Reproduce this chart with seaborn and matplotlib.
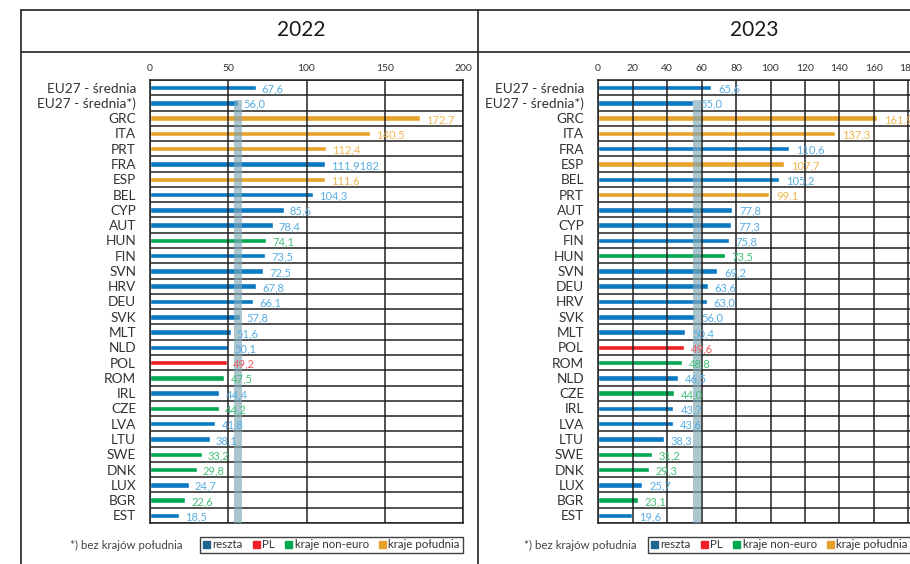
import numpy as np
import pandas as pd
import matplotlib.pyplot as plt
import matplotlib.lines as mlines
import matplotlib.patches as mpatches
import seaborn as sns

sns.set_theme(style='white')
plt.rcParams['font.family'] = ['Lato', 'DejaVu Sans']

# dane 2022
kraje_2022 = ['EU27 - średnia', 'EU27 - średnia*)', 'GRC', 'ITA', 'PRT', 'FRA', 'ESP', 'BEL',
              'CYP', 'AUT', 'HUN', 'FIN', 'SVN', 'HRV', 'DEU', 'SVK', 'MLT', 'NLD', 'POL',
              'ROM', 'IRL', 'CZE', 'LVA', 'LTU', 'SWE', 'DNK', 'LUX', 'BGR', 'EST']
wart_2022 = [67.6, 56.0, 172.7, 140.5, 112.4, 111.9182, 111.6, 104.3, 85.6, 78.4, 74.1, 73.5,
             72.5, 67.8, 66.1, 57.8, 51.6, 50.1, 49.2, 47.5, 44.4, 44.2, 41.8, 38.1, 33.2,
             29.8, 24.7, 22.6, 18.5]
etyk_2022 = ['67,6', '56,0', '172,7', '140,5', '112,4', '111,9182', '111,6', '104,3', '85,6',
             '78,4', '74,1', '73,5', '72,5', '67,8', '66,1', '57,8', '51,6', '50,1', '49,2',
             '47,5', '44,4', '44,2', '41,8', '38,1', '33,2', '29,8', '24,7', '22,6', '18,5']
grupa_2022 = ['reszta', 'reszta', 'kraje południa', 'kraje południa', 'kraje południa', 'reszta',
              'kraje południa', 'reszta', 'reszta', 'reszta', 'kraje non-euro', 'reszta', 'reszta',
              'reszta', 'reszta', 'reszta', 'reszta', 'reszta', 'PL', 'kraje non-euro', 'reszta',
              'kraje non-euro', 'reszta', 'reszta', 'kraje non-euro', 'kraje non-euro', 'reszta',
              'kraje non-euro', 'reszta']

# dane 2023
kraje_2023 = ['EU27 - średnia', 'EU27 - średnia*)', 'GRC', 'ITA', 'FRA', 'ESP', 'BEL', 'PRT',
              'AUT', 'CYP', 'FIN', 'HUN', 'SVN', 'DEU', 'HRV', 'SVK', 'MLT', 'POL', 'ROM',
              'NLD', 'CZE', 'IRL', 'LVA', 'LTU', 'SWE', 'DNK', 'LUX', 'BGR', 'EST']
wart_2023 = [65.6, 55.0, 161.9, 137.3, 110.6, 107.7, 105.2, 99.1, 77.8, 77.3, 75.8, 73.5, 69.2,
             63.6, 63.0, 56.0, 50.4, 49.6, 48.8, 46.5, 44.0, 43.7, 43.6, 38.3, 31.2, 29.3,
             25.7, 23.1, 19.6]
etyk_2023 = ['65,6', '55,0', '161,9', '137,3', '110,6', '107,7', '105,2', '99,1', '77,8', '77,3',
             '75,8', '73,5', '69,2', '63,6', '63,0', '56,0', '50,4', '49,6', '48,8', '46,5',
             '44,0', '43,7', '43,6', '38,3', '31,2', '29,3', '25,7', '23,1', '19,6']
grupa_2023 = ['reszta', 'reszta', 'kraje południa', 'kraje południa', 'reszta', 'kraje południa',
              'reszta', 'kraje południa', 'reszta', 'reszta', 'reszta', 'kraje non-euro', 'reszta',
              'reszta', 'reszta', 'reszta', 'reszta', 'PL', 'kraje non-euro', 'reszta',
              'kraje non-euro', 'reszta', 'reszta', 'reszta', 'kraje non-euro', 'kraje non-euro',
              'reszta', 'kraje non-euro', 'reszta']

grupy = ['reszta', 'PL', 'kraje non-euro', 'kraje południa']
kolory = {'reszta': '#0a79c2', 'PL': '#ee1f26', 'kraje non-euro': '#00a650',
          'kraje południa': '#e6a22a'}
kolory_leg = {'reszta': '#1e6590', 'PL': '#ee1f26', 'kraje non-euro': '#00a650',
              'kraje południa': '#e6a22a'}
kolory_etyk = {'reszta': '#58aee2', 'PL': '#ee5a60', 'kraje non-euro': '#45bf78',
               'kraje południa': '#f0b552'}

W, H = 910, 564
fig = plt.figure(figsize=(W / 100, H / 100), dpi=100)


def px(x0, y0, x1, y1):
    # prostokąt w pikselach -> wspolrzedne figury
    return [x0 / W, 1 - y1 / H, (x1 - x0) / W, (y1 - y0) / H]


def panel(ax, kraje, wart, etyk, grupa, ticks, pas, pas_w, off):
    df = pd.DataFrame({'kraj': kraje, 'wart': wart, 'grupa': grupa})
    sns.barplot(data=df, y='kraj', x='wart', hue='grupa', hue_order=grupy, palette=kolory,
                dodge=False, width=0.36, orient='h', ax=ax, legend=False, saturation=1)
    for i, (v, t, g) in enumerate(zip(wart, etyk, grupa)):
        ax.annotate(t, (v, i), xytext=(off, -1.5), textcoords='offset pixels',
                    ha='left', va='center', fontsize=8, color=kolory_etyk[g], zorder=6)
    n = len(kraje)
    for b in np.arange(-0.5, n, 1.0):
        ax.axhline(b, color='#222222', lw=1.1, zorder=1)
    for t in ticks:
        ax.axvline(t, color='#222222', lw=1.1, zorder=1)
    # pas sredniej bez krajow poludnia
    ax.fill_betweenx([1 - 0.2, n - 0.5], pas - pas_w / 2, pas + pas_w / 2,
                     color='#7ea8b6', alpha=0.65, lw=0, zorder=5)
    ax.set_xlim(0, 200)
    ax.set_ylim(n - 0.5, -0.5)
    ax.xaxis.tick_top()
    ax.set_xticks(ticks)
    ax.set_xticklabels([str(t) for t in ticks])
    ax.tick_params(axis='x', length=0, pad=5, labelsize=7.5, labelcolor='#333333')
    ax.tick_params(axis='y', length=0, pad=10, labelsize=9.8, labelcolor='#333333')
    ax.set_xlabel('')
    ax.set_ylabel('')
    for s in ax.spines.values():
        s.set_color('#222222')
        s.set_linewidth(1.1)


ax1 = fig.add_axes(px(150, 80, 463, 523))
panel(ax1, kraje_2022, wart_2022, etyk_2022, grupa_2022, [0, 50, 100, 150, 200], 56.0, 5.2, 6)

ax2 = fig.add_axes(px(598, 80, 943, 523))
panel(ax2, kraje_2023, wart_2023, etyk_2023, grupa_2023, list(range(0, 201, 20)), 57.3, 4.6, 7)

# ramki naglowka
linie = [([21, 910], [10, 10]), ([21, 910], [52, 52]), ([21, 21], [10, 564]),
         ([478, 478], [10, 564])]
for xs, ys in linie:
    fig.add_artist(mlines.Line2D([x / W for x in xs], [1 - y / H for y in ys],
                                 color='#333333', lw=1.3))

fig.text(301 / W, 1 - 30 / H, '2022', ha='center', va='center', fontsize=15,
         color='#1a1a1a')
fig.text(754 / W, 1 - 30 / H, '2023', ha='center', va='center', fontsize=15,
         color='#1a1a1a')

uchwyty = [mpatches.Patch(color=kolory_leg[g], label=g) for g in grupy]
for xc, xf in [(331.5, 183), (779.5, 637)]:
    fig.text(xf / W, 1 - 545 / H, '*) bez krajów południa', ha='right', va='center',
             fontsize=8.3, color='#444444')
    leg = fig.legend(handles=uchwyty, loc='center', bbox_to_anchor=(xc / W, 1 - 545 / H),
                     ncol=4, fontsize=8.3, frameon=True, fancybox=False, edgecolor='#111111',
                     handlelength=0.6, handleheight=0.6, handletextpad=0.2,
                     columnspacing=0.9, borderpad=0.25, borderaxespad=0)
    leg.get_frame().set_linewidth(1.0)
    for t in leg.get_texts():
        t.set_color('#333333')

fig.savefig('out.png', dpi=100)
